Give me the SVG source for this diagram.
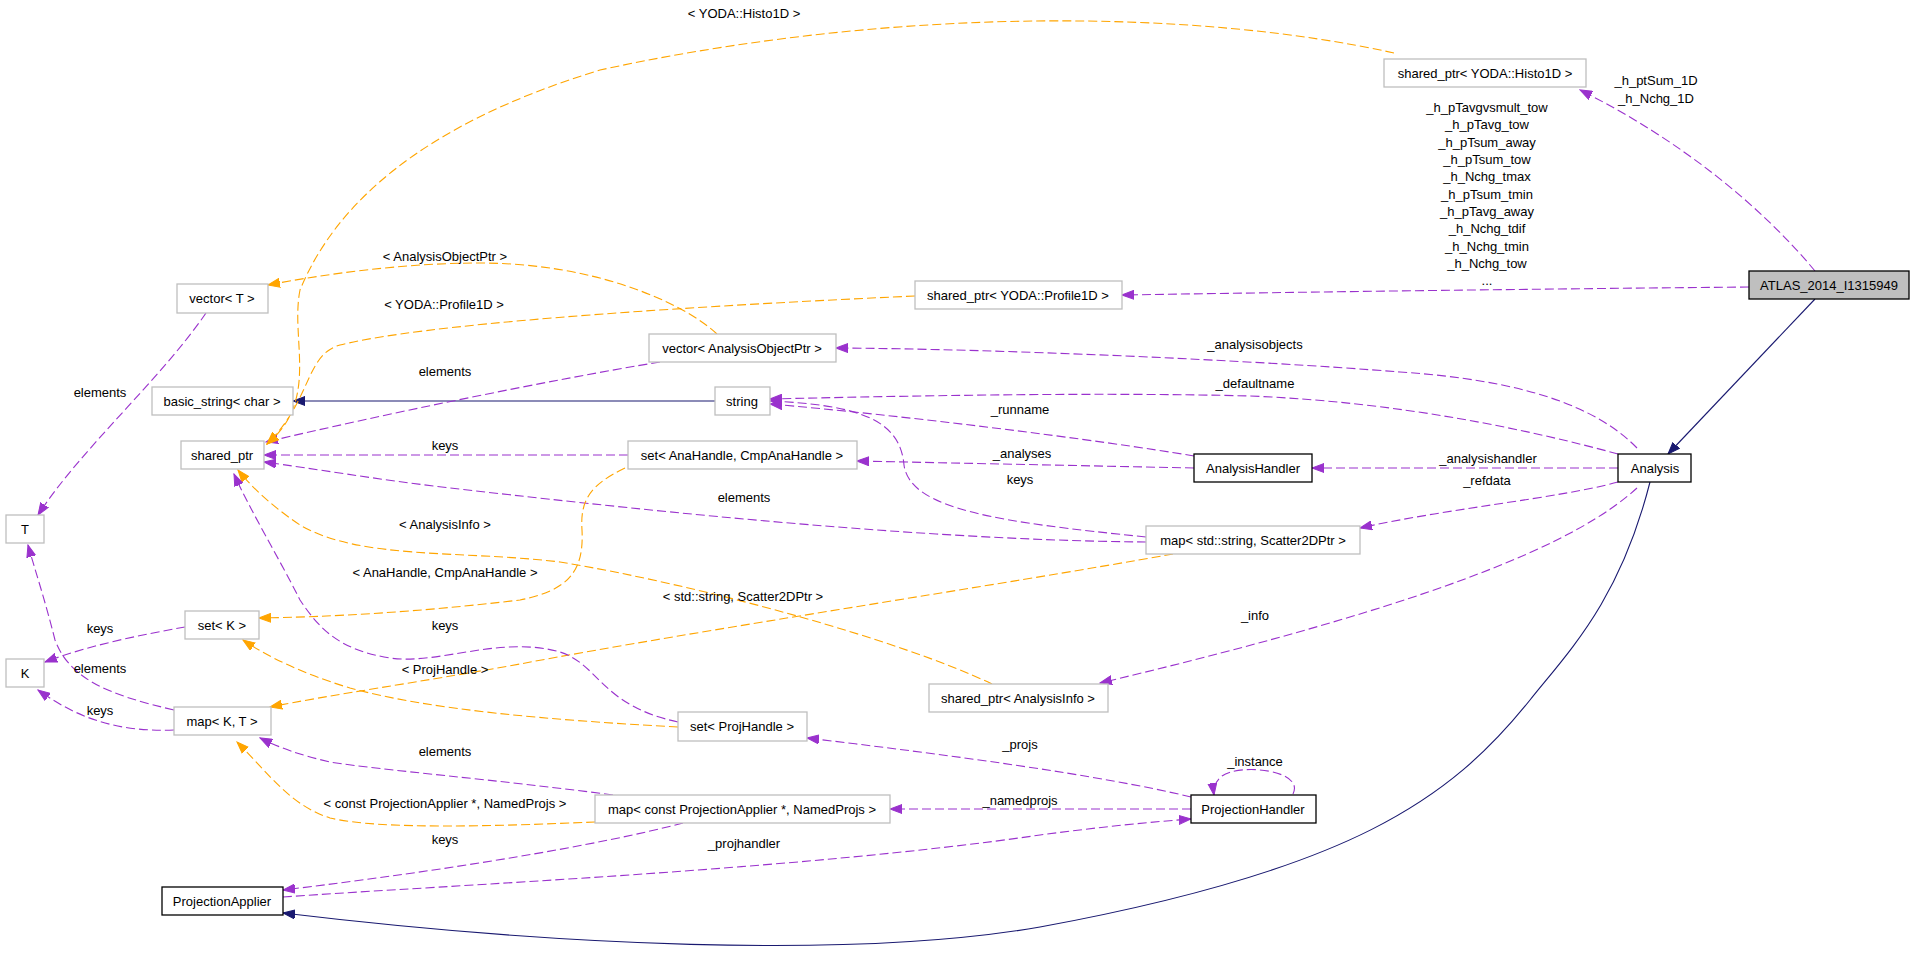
<svg xmlns="http://www.w3.org/2000/svg" width="1915" height="956" viewBox="0 0 1915 956">
<style>
text{font-family:"Liberation Sans",Arial,Helvetica,sans-serif;font-size:13px;fill:#000;text-anchor:middle}
.n{fill:#fff;stroke:#bfbfbf;stroke-width:1.3}
.d{fill:#fff;stroke:#000;stroke-width:1.3}
.m{fill:#bfbfbf;stroke:#000;stroke-width:1.3}
.p{fill:none;stroke:#9a32cd;stroke-width:1.1;stroke-dasharray:9,4;marker-end:url(#ap)}
.o{fill:none;stroke:#ffa500;stroke-width:1.1;stroke-dasharray:9,4;marker-end:url(#ao)}
.b{fill:none;stroke:#191970;stroke-width:1.1;marker-end:url(#ab)}
</style>
<defs>
<marker id="ap" markerWidth="13" markerHeight="10" refX="12" refY="5" orient="auto" markerUnits="userSpaceOnUse"><path d="M0,0.5 L12,5 L0,9.5 z" fill="#9a32cd" stroke="#9a32cd" stroke-width="1"/></marker>
<marker id="ao" markerWidth="13" markerHeight="10" refX="12" refY="5" orient="auto" markerUnits="userSpaceOnUse"><path d="M0,0.5 L12,5 L0,9.5 z" fill="#ffa500" stroke="#ffa500" stroke-width="1"/></marker>
<marker id="ab" markerWidth="13" markerHeight="10" refX="12" refY="5" orient="auto" markerUnits="userSpaceOnUse"><path d="M0,0.5 L12,5 L0,9.5 z" fill="#191970" stroke="#191970" stroke-width="1"/></marker>
</defs>
<rect width="1915" height="956" fill="#fff"/>
<g id="connectors">
<path class="p" d="M1815,271 C1760,205 1680,140 1580,90"/>
<path class="p" d="M1749,287 Q1430,290 1122,295"/>
<path class="b" d="M1815,299 L1668,454"/>
<path class="p" d="M1637,448 C1595,405 1520,380 1400,372 C1250,360 1000,349 836,348"/>
<path class="p" d="M1618,454 C1530,430 1400,402 1250,396 C1100,392 900,396 770,399"/>
<path class="p" d="M1194,456 C1100,440 900,415 770,404"/>
<path class="p" d="M1146,537 C1000,522 910,510 904,465 C900,420 860,405 770,401"/>
<path class="p" d="M1194,468 L857,461"/>
<path class="p" d="M1618,468 L1312,468"/>
<path class="p" d="M1618,482 C1560,498 1450,508 1360,528"/>
<path class="p" d="M1637,488 C1580,540 1450,600 1100,683"/>
<path class="b" d="M1650,482 C1620,600 1570,650 1530,700 C1450,800 1350,870 1040,927 C850,960 550,945 283,913"/>
<path class="b" d="M715,401 L293,401"/>
<path class="p" d="M660,362 C550,380 380,415 266,442"/>
<path class="o" d="M717,334 C680,300 590,263 480,263 C400,263 320,275 268,285"/>
<path class="o" d="M1394,53 C1200,10 900,5 600,70 C420,125 335,205 300,290 C290,340 320,400 267,444"/>
<path class="o" d="M915,296 C650,308 420,325 340,345 C305,355 312,400 267,444"/>
<path class="p" d="M628,455 L264,455"/>
<path class="p" d="M1146,542 C900,540 600,505 450,488 C380,480 310,468 264,462"/>
<path class="o" d="M1173,554 C1000,585 700,630 520,664 C420,682 330,695 270,707"/>
<path class="o" d="M625,468 C590,485 580,500 582,530 C584,570 570,590 520,600 C420,612 330,617 259,618"/>
<path class="o" d="M992,684 C900,640 700,585 560,562 C460,550 360,560 300,525 C270,505 250,485 238,470"/>
<path class="p" d="M678,722 C600,705 600,665 560,652 C500,635 440,665 390,658 C340,650 320,630 300,600 C280,560 250,510 234,474"/>
<path class="o" d="M678,727 C550,720 430,710 350,688 C300,673 265,655 243,640"/>
<path class="p" d="M613,795 C500,780 380,770 330,762 C300,755 280,748 260,738"/>
<path class="o" d="M595,822 C500,826 380,830 330,818 C290,805 270,775 237,742"/>
<path class="p" d="M683,823 C600,845 450,870 283,890"/>
<path class="p" d="M1191,797 C1100,775 950,755 807,738"/>
<path class="p" d="M1191,809 L890,809"/>
<path class="p" d="M1293,794 C1305,770 1240,763 1222,776 C1215,782 1213,788 1214,795"/>
<path class="p" d="M283,897 C450,885 800,870 1040,835 C1100,827 1150,822 1191,819"/>
<path class="p" d="M174,730 C120,732 80,720 38,690"/>
<path class="p" d="M174,710 C110,695 70,680 55,640 C45,600 35,570 28,545"/>
<path class="p" d="M185,627 C140,635 90,645 45,662"/>
<path class="p" d="M206,313 C160,380 80,450 38,515"/>
</g>
<g id="labels">
<text x="744" y="17.5">&lt; YODA::Histo1D &gt;</text>
<text x="1656" y="84.5">_h_ptSum_1D</text>
<text x="1656" y="102.5">_h_Nchg_1D</text>
<text x="1487" y="111.5">_h_pTavgvsmult_tow</text>
<text x="1487" y="128.5">_h_pTavg_tow</text>
<text x="1487" y="146.5">_h_pTsum_away</text>
<text x="1487" y="163.5">_h_pTsum_tow</text>
<text x="1487" y="180.5">_h_Nchg_tmax</text>
<text x="1487" y="198.5">_h_pTsum_tmin</text>
<text x="1487" y="215.5">_h_pTavg_away</text>
<text x="1487" y="232.5">_h_Nchg_tdif</text>
<text x="1487" y="250.5">_h_Nchg_tmin</text>
<text x="1487" y="267.5">_h_Nchg_tow</text>
<text x="1487" y="284.5">...</text>
<text x="445" y="260.5">&lt; AnalysisObjectPtr &gt;</text>
<text x="444" y="308.5">&lt; YODA::Profile1D &gt;</text>
<text x="445" y="375.5">elements</text>
<text x="100" y="396.5">elements</text>
<text x="1255" y="348.5">_analysisobjects</text>
<text x="1255" y="387.5">_defaultname</text>
<text x="1020" y="413.5">_runname</text>
<text x="445" y="449.5">keys</text>
<text x="1022" y="457.5">_analyses</text>
<text x="1488" y="462.5">_analysishandler</text>
<text x="1020" y="483.5">keys</text>
<text x="1487" y="484.5">_refdata</text>
<text x="744" y="501.5">elements</text>
<text x="445" y="528.5">&lt; AnalysisInfo &gt;</text>
<text x="445" y="576.5">&lt; AnaHandle, CmpAnaHandle &gt;</text>
<text x="743" y="600.5">&lt; std::string, Scatter2DPtr &gt;</text>
<text x="1255" y="619.5">_info</text>
<text x="445" y="629.5">keys</text>
<text x="100" y="632.5">keys</text>
<text x="100" y="672.5">elements</text>
<text x="445" y="673.5">&lt; ProjHandle &gt;</text>
<text x="100" y="714.5">keys</text>
<text x="1020" y="748.5">_projs</text>
<text x="445" y="755.5">elements</text>
<text x="1255" y="765.5">_instance</text>
<text x="1020" y="804.5">_namedprojs</text>
<text x="445" y="807.5">&lt; const ProjectionApplier *, NamedProjs &gt;</text>
<text x="445" y="843.5">keys</text>
<text x="744" y="847.5">_projhandler</text>
</g>
<g id="node-atlas"><rect class="m" x="1749" y="271" width="160" height="28"/><text x="1829" y="289.5">ATLAS_2014_I1315949</text></g>
<g id="node-histo1d"><rect class="n" x="1384" y="59" width="202" height="28"/><text x="1485" y="77.5">shared_ptr&lt; YODA::Histo1D &gt;</text></g>
<g id="node-profile1d"><rect class="n" x="915" y="281" width="207" height="28"/><text x="1018" y="299.5">shared_ptr&lt; YODA::Profile1D &gt;</text></g>
<g id="node-vectorT"><rect class="n" x="177" y="284" width="91" height="29"/><text x="222" y="302.5">vector&lt; T &gt;</text></g>
<g id="node-basicstring"><rect class="n" x="152" y="387" width="141" height="28"/><text x="222" y="405.5">basic_string&lt; char &gt;</text></g>
<g id="node-sharedptr"><rect class="n" x="181" y="441" width="83" height="28"/><text x="222" y="459.5">shared_ptr</text></g>
<g id="node-T"><rect class="n" x="6" y="515" width="38" height="28"/><text x="25" y="533.5">T</text></g>
<g id="node-K"><rect class="n" x="6" y="659" width="38" height="28"/><text x="25" y="677.5">K</text></g>
<g id="node-setK"><rect class="n" x="185" y="611" width="74" height="28"/><text x="222" y="629.5">set&lt; K &gt;</text></g>
<g id="node-mapKT"><rect class="n" x="174" y="707" width="97" height="28"/><text x="222" y="725.5">map&lt; K, T &gt;</text></g>
<g id="node-projapplier"><rect class="d" x="162" y="887" width="121" height="28"/><text x="222" y="905.5">ProjectionApplier</text></g>
<g id="node-vectorAOP"><rect class="n" x="649" y="334" width="187" height="28"/><text x="742" y="352.5">vector&lt; AnalysisObjectPtr &gt;</text></g>
<g id="node-string"><rect class="n" x="715" y="387" width="55" height="28"/><text x="742" y="405.5">string</text></g>
<g id="node-setAna"><rect class="n" x="628" y="441" width="229" height="28"/><text x="742" y="459.5">set&lt; AnaHandle, CmpAnaHandle &gt;</text></g>
<g id="node-setProj"><rect class="n" x="678" y="712" width="129" height="29"/><text x="742" y="730.5">set&lt; ProjHandle &gt;</text></g>
<g id="node-mapConst"><rect class="n" x="595" y="795" width="295" height="28"/><text x="742" y="813.5">map&lt; const ProjectionApplier *, NamedProjs &gt;</text></g>
<g id="node-analysisinfo"><rect class="n" x="929" y="684" width="179" height="28"/><text x="1018" y="702.5">shared_ptr&lt; AnalysisInfo &gt;</text></g>
<g id="node-analysishandler"><rect class="d" x="1194" y="454" width="118" height="28"/><text x="1253" y="472.5">AnalysisHandler</text></g>
<g id="node-mapScatter"><rect class="n" x="1146" y="526" width="214" height="28"/><text x="1253" y="544.5">map&lt; std::string, Scatter2DPtr &gt;</text></g>
<g id="node-projhandler"><rect class="d" x="1191" y="795" width="125" height="28"/><text x="1253" y="813.5">ProjectionHandler</text></g>
<g id="node-analysis"><rect class="d" x="1618" y="454" width="73" height="28"/><text x="1655" y="472.5">Analysis</text></g>
</svg>
